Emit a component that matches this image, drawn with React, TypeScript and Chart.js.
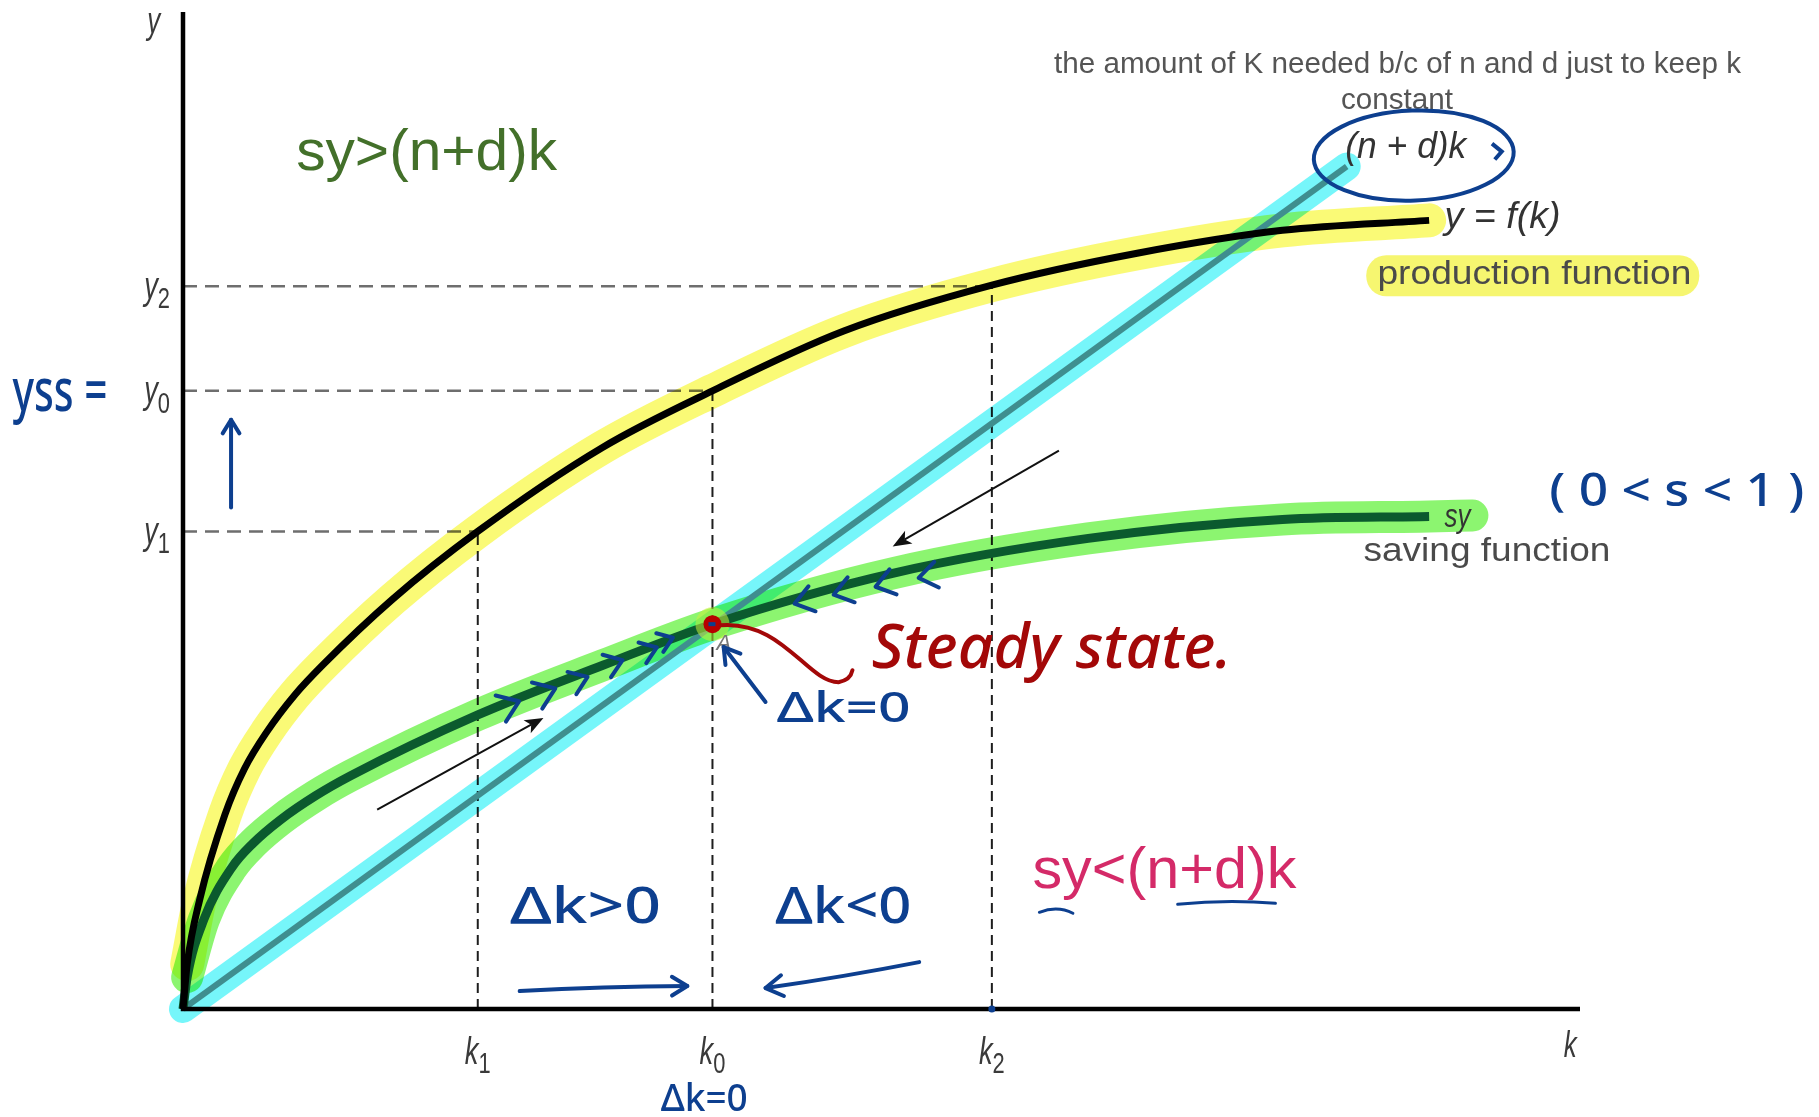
import React, { useEffect, useRef } from "react";
import { Chart, registerables } from "chart.js";

Chart.register(...registerables);

// ---------- data (k = capital per worker, y = output per worker) ----------
const productionK = [0, 0.3, 1.2, 3.0, 4.4, 6.0, 8.0, 10.0, 15.0, 21.1, 30.0, 37.9, 47.3, 57.9, 68.3, 78.7, 89.2];
const productionY = [0, 4.5, 11.0, 19.5, 24.1, 27.8, 31.5, 34.5, 41.1, 47.9, 56.3, 62.0, 68.0, 72.6, 75.8, 78.1, 79.1];
const savingK = [0, 0.3, 1.5, 3.5, 5.0, 7.0, 9.5, 12.0, 21.1, 30.1, 37.9, 50.8, 64.8, 78.7, 89.2];
const savingY = [0, 3.2, 9.0, 14.2, 16.6, 19.0, 21.4, 23.4, 29.5, 34.5, 38.6, 43.7, 47.2, 49.1, 49.4];
const savingHighlightTailK = [92.3];
const savingHighlightTailY = [49.5];
const breakEvenK = [0, 83.3];
const breakEvenY = [0, 84.5];

const kTickValues = [21.1, 37.9, 57.9];
const kTickSubs = ["1", "0", "2"];
const yTickValues = [47.9, 62.0, 72.5];
const yTickSubs = ["1", "0", "2"];

const steadyK = 37.9;
const steadyY = 38.6;

// hand-drawn chevrons along the saving curve
const rightChevronK = [23.4, 26.0, 28.4, 30.9, 33.4, 34.6];
const rightChevronY = [30.5, 31.8, 33.0, 34.7, 36.0, 37.0];
const rightChevronSize = [28, 28, 24, 24, 22, 20];
const leftChevronK = [44.4, 47.2, 50.2, 53.3];
const leftChevronY = [40.9, 41.8, 42.6, 43.4];

// thin black direction arrows [tailK, tailY, headK, headY]
const blackArrows = [
  [13.9, 20.0, 25.8, 29.2],
  [62.7, 56.0, 50.8, 46.4],
];

const BLUE = "#0d3f8f";
const RED = "#a30808";
const SANS = '"Liberation Sans", Arial, sans-serif';
const HAND = '"Noto Sans", "DejaVu Sans", sans-serif';

function pts(ks: number[], ys: number[]) {
  return ks.map((k, i) => ({ x: k, y: ys[i] }));
}

function fitText(ctx: CanvasRenderingContext2D, text: string, left: number, cy: number, width: number, font: string, color: string) {
  ctx.save();
  ctx.font = font;
  ctx.fillStyle = color;
  ctx.textBaseline = "middle";
  ctx.textAlign = "left";
  const w = ctx.measureText(text).width;
  ctx.translate(left, cy);
  ctx.scale(width / w, 1);
  ctx.fillText(text, 0, 0);
  ctx.restore();
  return width / w;
}

function subLabel(ctx: CanvasRenderingContext2D, main: string, sub: string, x: number, cy: number, align: "center" | "right", size: number) {
  ctx.save();
  const sx = 0.72;
  ctx.fillStyle = "#3a3a3a";
  ctx.textBaseline = "middle";
  ctx.textAlign = "left";
  ctx.font = `italic ${size}px ${SANS}`;
  const wm = ctx.measureText(main).width * sx;
  ctx.font = `${size * 0.8}px ${SANS}`;
  const ws = sub ? ctx.measureText(sub).width * sx : 0;
  const total = wm + ws;
  const left = align === "center" ? x - total / 2 : x - total;
  ctx.save();
  ctx.translate(left, cy);
  ctx.scale(sx, 1);
  ctx.font = `italic ${size}px ${SANS}`;
  ctx.fillText(main, 0, 0);
  ctx.restore();
  if (sub) {
    ctx.save();
    ctx.translate(left + wm, cy + size * 0.3);
    ctx.scale(sx, 1);
    ctx.font = `${size * 0.8}px ${SANS}`;
    ctx.fillText(sub, 0, 0);
    ctx.restore();
  }
  ctx.restore();
}

function openArrow(ctx: CanvasRenderingContext2D, x1: number, y1: number, x2: number, y2: number, head: number, color: string, lw: number, bend = 0) {
  ctx.save();
  ctx.strokeStyle = color;
  ctx.lineWidth = lw;
  ctx.lineCap = "round";
  ctx.lineJoin = "round";
  ctx.beginPath();
  ctx.moveTo(x1, y1);
  const mx = (x1 + x2) / 2;
  const my = (y1 + y2) / 2 + bend;
  ctx.quadraticCurveTo(mx, my, x2, y2);
  ctx.stroke();
  const a = Math.atan2(y2 - my, x2 - mx);
  ctx.beginPath();
  ctx.moveTo(x2 - head * Math.cos(a - 0.55), y2 - head * Math.sin(a - 0.55));
  ctx.lineTo(x2, y2);
  ctx.lineTo(x2 - head * Math.cos(a + 0.55), y2 - head * Math.sin(a + 0.55));
  ctx.stroke();
  ctx.restore();
}

function solidArrow(ctx: CanvasRenderingContext2D, x1: number, y1: number, x2: number, y2: number) {
  ctx.save();
  ctx.strokeStyle = "#111";
  ctx.fillStyle = "#111";
  ctx.lineWidth = 2;
  const a = Math.atan2(y2 - y1, x2 - x1);
  const hl = 20;
  ctx.beginPath();
  ctx.moveTo(x1, y1);
  ctx.lineTo(x2 - hl * 0.7 * Math.cos(a), y2 - hl * 0.7 * Math.sin(a));
  ctx.stroke();
  ctx.beginPath();
  ctx.moveTo(x2, y2);
  ctx.lineTo(x2 - hl * Math.cos(a - 0.38), y2 - hl * Math.sin(a - 0.38));
  ctx.lineTo(x2 - hl * 0.7 * Math.cos(a), y2 - hl * 0.7 * Math.sin(a));
  ctx.lineTo(x2 - hl * Math.cos(a + 0.38), y2 - hl * Math.sin(a + 0.38));
  ctx.closePath();
  ctx.fill();
  ctx.restore();
}

const multiplyPlugin = {
  id: "multiplyHighlights",
  beforeDatasetDraw(chart: any, args: any) {
    const ds = chart.data.datasets[args.index];
    if (ds.multiply) {
      chart.ctx.save();
      chart.ctx.globalCompositeOperation = "multiply";
    }
  },
  afterDatasetDraw(chart: any, args: any) {
    const ds = chart.data.datasets[args.index];
    if (ds.multiply) chart.ctx.restore();
  },
};

const annotationPlugin = {
  id: "annotations",
  beforeDraw(chart: any) {
    const { ctx, width, height } = chart;
    ctx.save();
    ctx.fillStyle = "#ffffff";
    ctx.fillRect(0, 0, width, height);
    ctx.restore();
  },
  beforeDatasetsDraw(chart: any) {
    const ctx: CanvasRenderingContext2D = chart.ctx;
    const X = (v: number) => chart.scales.x.getPixelForValue(v);
    const Y = (v: number) => chart.scales.y.getPixelForValue(v);
    ctx.save();
    ctx.strokeStyle = "#6e6e6e";
    ctx.lineWidth = 2.5;
    ctx.setLineDash([14, 8]);
    kTickValues.forEach((k, i) => {
      ctx.beginPath();
      ctx.moveTo(X(0), Y(yTickValues[i]));
      ctx.lineTo(X(k), Y(yTickValues[i]));
      ctx.stroke();
    });
    ctx.strokeStyle = "#1e1e1e";
    ctx.lineWidth = 2;
    ctx.setLineDash([10, 6]);
    kTickValues.forEach((k, i) => {
      ctx.beginPath();
      ctx.moveTo(X(k), Y(0));
      ctx.lineTo(X(k), Y(yTickValues[i]));
      ctx.stroke();
    });
    ctx.restore();
  },
  afterDatasetsDraw(chart: any) {
    const ctx: CanvasRenderingContext2D = chart.ctx;
    const X = (v: number) => chart.scales.x.getPixelForValue(v);
    const Y = (v: number) => chart.scales.y.getPixelForValue(v);

    // axes
    ctx.save();
    ctx.strokeStyle = "#000";
    ctx.lineWidth = 4.5;
    ctx.beginPath();
    ctx.moveTo(X(0), Y(100));
    ctx.lineTo(X(0), Y(0));
    ctx.lineTo(X(100), Y(0));
    ctx.stroke();
    ctx.restore();

    subLabel(ctx, "y", "", X(-2.1), Y(98.9), "center", 36);
    subLabel(ctx, "k", "", X(99.3), Y(-3.8), "center", 36);
    kTickValues.forEach((k, i) => subLabel(ctx, "k", kTickSubs[i], X(k), Y(0) + 44, "center", 38));
    yTickValues.forEach((y, i) => subLabel(ctx, "y", yTickSubs[i], X(0) - 13, Y(y) + 2, "right", 38));

    blackArrows.forEach(([k1, y1, k2, y2]) => solidArrow(ctx, X(k1), Y(y1), X(k2), Y(y2)));

    // steady-state point
    ctx.save();
    ctx.fillStyle = "rgba(200,240,60,0.55)";
    ctx.beginPath();
    ctx.arc(X(steadyK), Y(steadyY), 17, 0, Math.PI * 2);
    ctx.fill();
    ctx.fillStyle = "#b80000";
    ctx.beginPath();
    ctx.arc(X(steadyK), Y(steadyY), 9, 0, Math.PI * 2);
    ctx.fill();
    ctx.fillStyle = BLUE;
    ctx.fillRect(X(steadyK) - 4, Y(steadyY) - 2, 7, 4);
    ctx.restore();
    ctx.save();
    ctx.fillStyle = "#777";
    ctx.font = `italic 22px ${SANS}`;
    ctx.textBaseline = "middle";
    ctx.fillText("A", X(steadyK) + 4, Y(steadyY) + 20);
    ctx.restore();

    // chevrons along saving curve
    const angleAt = (k: number) => {
      let i = 0;
      while (i < savingK.length - 2 && savingK[i + 1] < k) i++;
      return Math.atan2(Y(savingY[i + 1]) - Y(savingY[i]), X(savingK[i + 1]) - X(savingK[i]));
    };
    ctx.save();
    ctx.strokeStyle = BLUE;
    ctx.lineWidth = 4;
    ctx.lineCap = "round";
    ctx.lineJoin = "round";
    const chev = (k: number, y: number, dir: number, s: number) => {
      ctx.save();
      ctx.translate(X(k), Y(y));
      ctx.rotate(angleAt(k));
      ctx.beginPath();
      ctx.moveTo(-dir * s * 0.35, -s * 0.5);
      ctx.lineTo(dir * s * 0.35, 0);
      ctx.lineTo(-dir * s * 0.35, s * 0.5);
      ctx.stroke();
      ctx.restore();
    };
    rightChevronK.forEach((k, i) => chev(k, rightChevronY[i], 1, rightChevronSize[i]));
    leftChevronK.forEach((k, i) => chev(k, leftChevronY[i], -1, 26));
    ctx.restore();

    // red connector to "Steady state."
    ctx.save();
    ctx.strokeStyle = RED;
    ctx.lineWidth = 4;
    ctx.lineCap = "round";
    ctx.beginPath();
    ctx.moveTo(X(steadyK) + 8, Y(steadyY) + 1);
    ctx.bezierCurveTo(X(steadyK) + 70, Y(steadyY) - 4, X(steadyK) + 95, Y(steadyY) + 58, X(steadyK) + 126, Y(steadyY) + 58);
    ctx.quadraticCurveTo(X(steadyK) + 138, Y(steadyY) + 56, X(steadyK) + 140, Y(steadyY) + 46);
    ctx.stroke();
    ctx.restore();
    fitText(ctx, "Steady state.", X(49.3), Y(36.0), 360, `italic 500 62px ${HAND}`, RED);

    // blue handwritten annotations
    fitText(ctx, "Δk=0", X(42.5), Y(30.0), 134, `500 42px ${HAND}`, BLUE);
    openArrow(ctx, X(41.7), Y(30.8), X(38.7), Y(36.3), 18, BLUE, 4);
    fitText(ctx, "Δk>0", X(23.4), Y(10.1), 151, `500 50px ${HAND}`, BLUE);
    fitText(ctx, "Δk<0", X(42.4), Y(10.1), 136, `500 50px ${HAND}`, BLUE);
    openArrow(ctx, X(24.1), Y(1.8), X(36.1), Y(2.3), 18, BLUE, 4, -2);
    openArrow(ctx, X(52.7), Y(4.7), X(41.7), Y(2.1), 20, BLUE, 4, 2);
    fitText(ctx, "Δk=0", X(34.2), Y(-9.1), 87, `500 38px ${HAND}`, BLUE);
    fitText(ctx, "yss =", X(-12.2), Y(61.7), 95, `500 60px ${HAND}`, BLUE);
    openArrow(ctx, X(3.44), Y(50.3), X(3.44), Y(59.1), 16, BLUE, 4);
    fitText(ctx, "( 0 < s < 1 )", X(97.8), Y(51.8), 255, `500 46px ${HAND}`, BLUE);
    ctx.save();
    ctx.fillStyle = BLUE;
    ctx.beginPath();
    ctx.arc(X(kTickValues[2]), Y(0), 3.5, 0, Math.PI * 2);
    ctx.fill();
    ctx.restore();

    // region labels
    fitText(ctx, "sy>(n+d)k", X(8.1), Y(85.8), 261, `58px ${SANS}`, "#43702a");
    fitText(ctx, "sy<(n+d)k", X(60.8), Y(13.7), 264, `58px ${SANS}`, "#d42a68");
    ctx.save();
    ctx.strokeStyle = BLUE;
    ctx.lineWidth = 3;
    ctx.lineCap = "round";
    ctx.beginPath();
    ctx.moveTo(X(61.3), Y(9.7));
    ctx.quadraticCurveTo(X(62.6), Y(10.4), X(63.7), Y(9.6));
    ctx.moveTo(X(71.2), Y(10.5));
    ctx.quadraticCurveTo(X(74.7), Y(11.0), X(78.2), Y(10.6));
    ctx.stroke();
    ctx.restore();

    // right side labels
    const s = fitText(ctx, "the amount of K needed b/c of n and d just to keep k", X(86.9) - 343, Y(94.7), 687, `29px ${SANS}`, "#555");
    ctx.save();
    ctx.font = `29px ${SANS}`;
    const wc = ctx.measureText("constant").width * s;
    ctx.restore();
    fitText(ctx, "constant", X(86.9) - wc / 2, Y(91.1), wc, `29px ${SANS}`, "#555");

    fitText(ctx, "(n + d)k", X(83.2), Y(86.4), 121, `italic 36px ${SANS}`, "#333");
    ctx.save();
    ctx.strokeStyle = BLUE;
    ctx.lineWidth = 4;
    ctx.beginPath();
    ctx.ellipse(X(88.1), Y(85.6), 100, 45, -0.04, 0, Math.PI * 2);
    ctx.stroke();
    ctx.beginPath();
    ctx.moveTo(X(93.7), Y(86.8));
    ctx.lineTo(X(94.4), Y(86.0));
    ctx.lineTo(X(93.9), Y(85.2));
    ctx.stroke();
    ctx.restore();

    fitText(ctx, "y = f(k)", X(90.3), Y(79.3), 116, `italic 36px ${SANS}`, "#333");
    ctx.save();
    ctx.globalCompositeOperation = "multiply";
    ctx.fillStyle = "rgb(246,246,112)";
    ctx.beginPath();
    (ctx as any).roundRect(X(84.7), Y(75.6), 333, 41, 20);
    ctx.fill();
    ctx.restore();
    fitText(ctx, "production function", X(85.5), Y(73.7), 314, `34px ${SANS}`, "#4a4a4a");
    fitText(ctx, "sy", X(90.3), Y(49.3), 26, `italic 34px ${SANS}`, "#333");
    fitText(ctx, "saving function", X(84.5), Y(45.9), 247, `34px ${SANS}`, "#4a4a4a");
  },
};

export default function App() {
  const ref = useRef<HTMLCanvasElement | null>(null);
  useEffect(() => {
    document.body.style.margin = "0";
    document.body.style.overflow = "hidden";
    const canvas = ref.current!;
    const chart = new Chart(canvas, {
      type: "line",
      data: {
        datasets: [
          {
            label: "production highlight",
            data: pts(productionK.slice(1), productionY.slice(1)),
            borderColor: "rgb(250,250,118)",
            borderWidth: 34,
            borderCapStyle: "round",
            borderJoinStyle: "round",
            cubicInterpolationMode: "monotone",
            pointRadius: 0,
            clip: false,
            order: 30,
            multiply: true,
          } as any,
          {
            label: "saving highlight",
            data: pts(savingK.slice(1).concat(savingHighlightTailK), savingY.slice(1).concat(savingHighlightTailY)),
            borderColor: "rgb(140,245,112)",
            borderWidth: 32,
            borderCapStyle: "round",
            borderJoinStyle: "round",
            cubicInterpolationMode: "monotone",
            pointRadius: 0,
            clip: false,
            order: 29,
            multiply: true,
          } as any,
          {
            label: "break-even highlight",
            data: pts(breakEvenK, breakEvenY),
            borderColor: "rgb(118,246,250)",
            borderWidth: 28,
            borderCapStyle: "round",
            pointRadius: 0,
            clip: false,
            order: 28,
            multiply: true,
          } as any,
          {
            label: "(n + d)k",
            data: pts(breakEvenK, breakEvenY),
            borderColor: "#3f8e8f",
            borderWidth: 6,
            pointRadius: 0,
            clip: false,
            order: 3,
          },
          {
            label: "sy",
            data: pts(savingK, savingY),
            borderColor: "#0b5a2e",
            borderWidth: 9,
            cubicInterpolationMode: "monotone",
            pointRadius: 0,
            clip: false,
            order: 2,
          },
          {
            label: "y = f(k)",
            data: pts(productionK, productionY),
            borderColor: "#000000",
            borderWidth: 7,
            cubicInterpolationMode: "monotone",
            pointRadius: 0,
            clip: false,
            order: 1,
          },
        ],
      },
      options: {
        animation: false,
        responsive: false,
        devicePixelRatio: 1,
        layout: { padding: { left: 183, right: 239, top: 12, bottom: 108 } },
        scales: {
          x: { type: "linear", min: 0, max: 100, display: false },
          y: { type: "linear", min: 0, max: 100, display: false },
        },
        plugins: { legend: { display: false }, tooltip: { enabled: false } },
        elements: { point: { radius: 0 } },
      },
      plugins: [multiplyPlugin, annotationPlugin],
    } as any);
    return () => chart.destroy();
  }, []);
  return (
    <div style={{ position: "absolute", left: 0, top: 0, width: 1819, height: 1117 }}>
      <canvas ref={ref} width={1819} height={1117} style={{ display: "block" }} />
    </div>
  );
}
